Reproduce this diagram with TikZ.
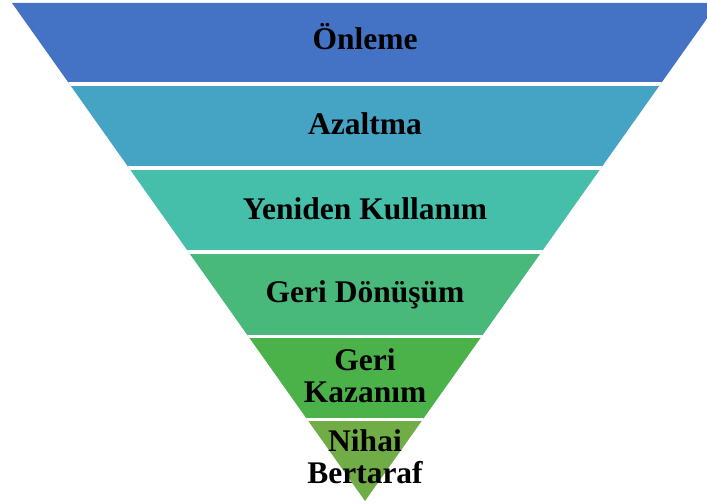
\documentclass[tikz,border=0pt]{standalone}
\usepackage{fontspec}
\setmainfont{Liberation Serif}
\definecolor{cA}{RGB}{68,114,196}
\definecolor{cB}{RGB}{69,163,196}
\definecolor{cC}{RGB}{69,190,170}
\definecolor{cD}{RGB}{72,185,122}
\definecolor{cE}{RGB}{74,178,73}
\definecolor{cF}{RGB}{112,173,71}
\tikzset{
  lbl/.style={font=\bfseries\fontsize{31.5bp}{31.5bp}\selectfont, text=black, inner sep=0pt, align=center},
  gap/.style={white, line width=3.5bp}
}
\begin{document}
\begin{tikzpicture}[x=1bp,y=-1bp]
\useasboundingbox (0,0) rectangle (707,504);
\clip (0,0) rectangle (707,504);
\begin{scope}
  \clip (12,3) -- (718,3) -- (365,501) -- cycle;
  \fill[cA] (0,0) rectangle (720,84);
  \fill[cB] (0,84) rectangle (720,168);
  \fill[cC] (0,168) rectangle (720,252);
  \fill[cD] (0,252) rectangle (720,336.5);
  \fill[cE] (0,336.5) rectangle (720,419.5);
  \fill[cF] (0,419.5) rectangle (720,504);
  \coordinate (g1l) at (0,84);    \coordinate (g1r) at (720,84);
  \coordinate (g2l) at (0,168);   \coordinate (g2r) at (720,168);
  \coordinate (g3l) at (0,252);   \coordinate (g3r) at (720,252);
  \coordinate (g4l) at (0,336.5); \coordinate (g4r) at (720,336.5);
  \coordinate (g5l) at (0,419.5); \coordinate (g5r) at (720,419.5);
  \draw[gap] (g1l) -- (g1r);
  \draw[gap] (g2l) -- (g2r);
  \draw[gap] (g3l) -- (g3r);
  \draw[gap] (g4l) -- (g4r);
  \draw[gap] (g5l) -- (g5r);
\end{scope}
\node[lbl, anchor=base] (t1) at (365,50) {Önleme};
\node[lbl, anchor=base] (t2) at (365,135) {Azaltma};
\node[lbl, anchor=base] (t3) at (365,220) {Yeniden Kullanım};
\node[lbl, anchor=base] (t4) at (365,302) {Geri Dönüşüm};
\node[lbl, anchor=center] (t5) at (365,375.5) {Geri\\Kazanım};
\node[lbl, anchor=center] (t6) at (365,456.5) {Nihai\\Bertaraf};
\end{tikzpicture}
\end{document}
